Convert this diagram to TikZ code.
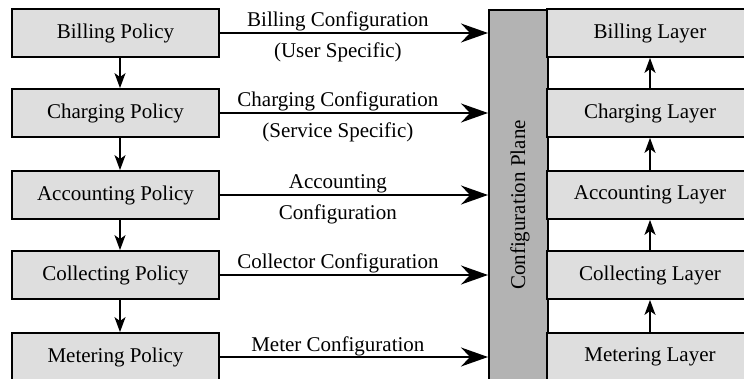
\documentclass[tikz,border=0pt]{standalone}
\usepackage{fontspec}
\setmainfont{Liberation Serif}
\usetikzlibrary{arrows.meta}
\definecolor{boxgray}{HTML}{DEDEDE}
\definecolor{planegray}{HTML}{B3B3B3}
\begin{document}
\begin{tikzpicture}[x=1pt,y=-1pt,
  font=\fontsize{21}{25}\selectfont,
  pbox/.style={draw, line width=1.8pt, fill=boxgray, minimum width=207pt, minimum height=48pt, inner sep=0pt},
  lbox/.style={draw, line width=1.8pt, fill=boxgray, minimum width=206pt, minimum height=48pt, inner sep=0pt},
  planebox/.style={draw, line width=1.8pt, fill=planegray, minimum width=59pt, minimum height=420pt, inner sep=0pt, anchor=north west},
  varrow/.style={line width=1.8pt, -{Stealth[length=15pt,width=11pt,inset=4pt]}},
  harrow/.style={line width=1.8pt, -{Stealth[length=27pt,width=19pt,inset=9pt]}},
  uplab/.style={pos=0.44, anchor=base, yshift=6pt, inner sep=0pt},
  lowlab/.style={pos=0.44, anchor=base, yshift=-25pt, inner sep=0pt}
]
\useasboundingbox (0,0) rectangle (744,379);
\clip (0,0) rectangle (744,379);

% policy boxes
\node[pbox] (bp) at (115.5,33) {Billing Policy};
\node[pbox] (cp) at (115.5,113) {Charging Policy};
\node[pbox] (ap) at (115.5,195) {Accounting Policy};
\node[pbox] (colp) at (115.5,275) {Collecting Policy};
\node[pbox] (mp) at (115.5,357) {Metering Policy};

% configuration plane
\node[planebox] (plane) at (488,9) {};
\node[rotate=90] (planelabel) at (520,205) {Configuration Plane};

% layer boxes
\node[lbox] (bl) at (650,33) {Billing Layer};
\node[lbox] (cl) at (650,113) {Charging Layer};
\node[lbox] (al) at (650,195) {Accounting Layer};
\node[lbox] (coll) at (650,275) {Collecting Layer};
\node[lbox] (ml) at (650,357) {Metering Layer};

% policy chain
\draw[varrow] ([xshift=4.5pt]bp.south) -- ([xshift=4.5pt]cp.north);
\draw[varrow] ([xshift=4.5pt]cp.south) -- ([xshift=4.5pt]ap.north);
\draw[varrow] ([xshift=4.5pt]ap.south) -- ([xshift=4.5pt]colp.north);
\draw[varrow] ([xshift=4.5pt]colp.south) -- ([xshift=4.5pt]mp.north);

% layer chain
\draw[varrow] (cl.north) -- (bl.south);
\draw[varrow] (al.north) -- (cl.south);
\draw[varrow] (coll.north) -- (al.south);
\draw[varrow] (ml.north) -- (coll.south);

% configuration arrows
\draw[harrow] (bp.east) -- (bp.east -| plane.west)
  node[uplab] {Billing Configuration}
  node[lowlab] {(User Specific)};
\draw[harrow] (cp.east) -- (cp.east -| plane.west)
  node[uplab] {Charging Configuration}
  node[lowlab] {(Service Specific)};
\draw[harrow] (ap.east) -- (ap.east -| plane.west)
  node[uplab] {Accounting}
  node[lowlab] {Configuration};
\draw[harrow] (colp.east) -- (colp.east -| plane.west)
  node[uplab] {Collector Configuration};
\draw[harrow] (mp.east) -- (mp.east -| plane.west)
  node[uplab] {Meter Configuration};
\end{tikzpicture}
\end{document}
